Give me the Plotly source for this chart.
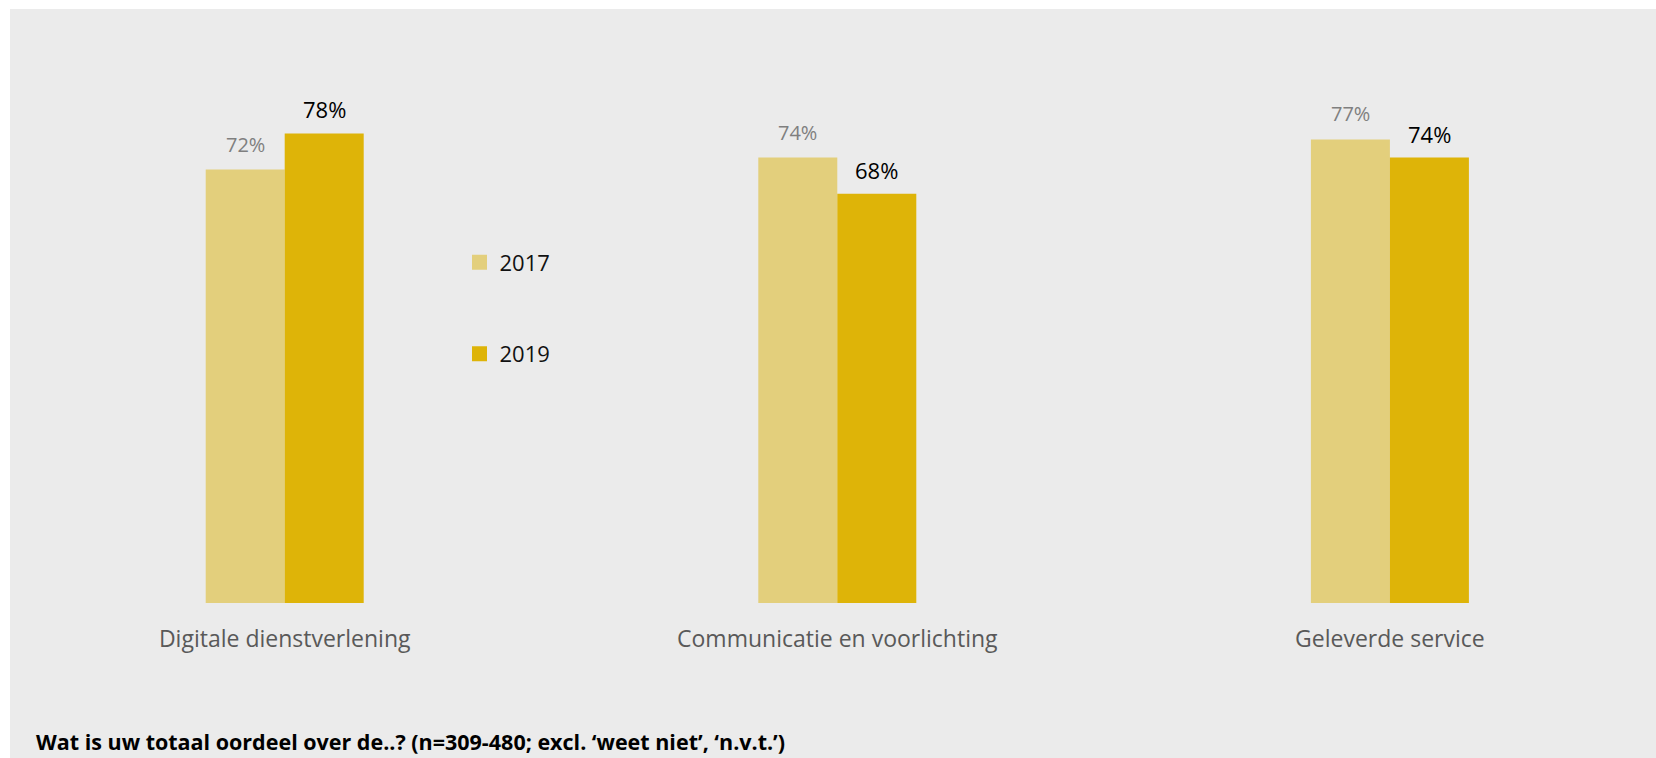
import plotly.graph_objects as go

categories = ["Digitale dienstverlening", "Communicatie en voorlichting", "Geleverde service"]
series_names = ["2017", "2019"]
values_2017 = [72, 74, 77]
values_2019 = [78, 68, 74]
footnote = "Wat is uw totaal oordeel over de..? (n=309-480; excl. \u2018weet niet\u2019, \u2018n.v.t.\u2019)"

C17 = "#E3CF7C"
C19 = "#DEB408"
FONT = "Open Sans"

W, H = 1656, 758
ML, MR, MT, MB = 10, 0, 10, 155
PW = W - ML - MR
PH = H - MT - MB
cat_px = 552.6
x0 = -(284.7 - ML) / cat_px
x1 = x0 + PW / cat_px
y_top = (603 - MT) / 6.02

fig = go.Figure()
fig.add_trace(go.Bar(x=categories, y=values_2017, name=series_names[0], marker=dict(color=C17, line=dict(width=0)),
                     showlegend=False, hoverinfo="skip"))
fig.add_trace(go.Bar(x=categories, y=values_2019, name=series_names[1], marker=dict(color=C19, line=dict(width=0)),
                     showlegend=False, hoverinfo="skip"))
# legend proxies
fig.add_trace(go.Scatter(x=[None], y=[None], mode="markers", name=series_names[0],
                         marker=dict(symbol="square", size=15, color=C17), legend="legend"))
fig.add_trace(go.Scatter(x=[None], y=[None], mode="markers", name=series_names[1],
                         marker=dict(symbol="square", size=15, color=C19), legend="legend2"))

half = 39.5
for i, c in enumerate(categories):
    fig.add_annotation(x=c, y=values_2017[i], xref="x", yref="y", text=f"{values_2017[i]}%",
                       showarrow=False, xshift=-half, yshift=10, yanchor="bottom",
                       font=dict(family=FONT, size=20, color="#7F7F7F"))
    fig.add_annotation(x=c, y=values_2019[i], xref="x", yref="y", text=f"{values_2019[i]}%",
                       showarrow=False, xshift=half, yshift=7, yanchor="bottom",
                       font=dict(family=FONT, size=22, color="#000000"))

fig.add_annotation(x=(35 - ML) / PW, y=(603 - 741) / PH, xref="paper", yref="paper", text=footnote,
                   showarrow=False, xanchor="left", yanchor="middle", borderpad=0,
                   font=dict(family=FONT, size=21.5, color="#000000", weight="bold"))

fig.add_shape(type="rect", xref="paper", yref="paper", x0=0, x1=1.01,
              y0=-0.4, y1=1 + 1 / PH, fillcolor="#EBEBEB", line=dict(width=0), layer="below")

leg_common = dict(xref="container", yref="container", xanchor="left", yanchor="middle",
                  bgcolor="rgba(0,0,0,0)", borderwidth=0,
                  font=dict(family=FONT, size=22, color="#111111"))
fig.update_layout(
    width=W, height=H,
    margin=dict(l=ML, r=MR, t=MT, b=MB, autoexpand=False),
    paper_bgcolor="#FFFFFF", plot_bgcolor="rgba(0,0,0,0)",
    barmode="group", bargap=1 - 158 / cat_px, bargroupgap=0,
    legend=dict(x=(479.5 - 20) / W, y=1 - 262.5 / H, **leg_common),
    legend2=dict(x=(479.5 - 20) / W, y=1 - 354 / H, **leg_common),
    xaxis=dict(range=[x0, x1], showgrid=False, zeroline=False, showline=False, ticks="",
               tickfont=dict(family=FONT, size=23, color="#595959"), ticklabelstandoff=20,
               automargin=False),
    yaxis=dict(range=[0, y_top], visible=False, showgrid=False, automargin=False),
    font=dict(family=FONT),
)

fig.write_html("out.html", config={"displayModeBar": False},
               post_script="document.body.style.margin='0';document.body.style.overflow='hidden';")
